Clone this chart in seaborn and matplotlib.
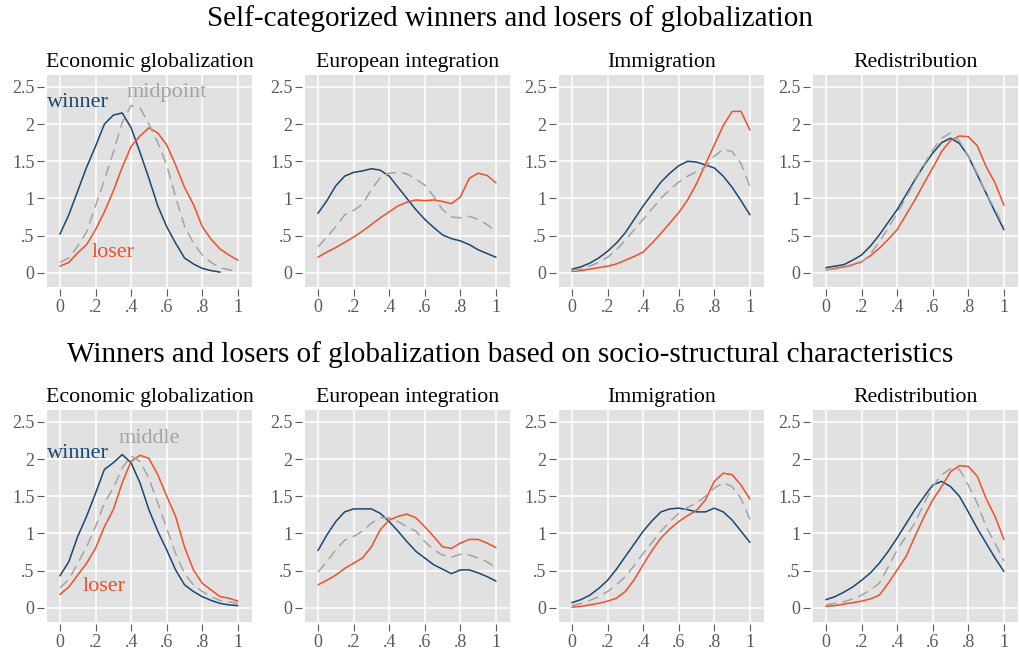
import numpy as np
import matplotlib
matplotlib.use("Agg")
import matplotlib.pyplot as plt
import seaborn as sns

# ==========================================
# Data (densities)
# ==========================================
grid = [0, .05, .10, .15, .20, .25, .30, .35, .40, .45, .50,
        .55, .60, .65, .70, .75, .80, .85, .90, .95, 1.0]

panel_titles = ["Economic globalization", "European integration",
                "Immigration", "Redistribution"]
row_titles = ["Self-categorized winners and losers of globalization",
              "Winners and losers of globalization based on socio-structural characteristics"]

# row 1: self-categorized
econ_self_winner = [.52, .78, 1.10, 1.42, 1.70, 2.00, 2.12, 2.15, 1.95, 1.62, 1.27,
                    .90, .62, .40, .20, .12, .06, .03, .01]
econ_self_loser = [.09, .14, .27, .38, .58, .82, 1.10, 1.42, 1.70, 1.84, 1.95,
                   1.88, 1.72, 1.45, 1.15, .92, .62, .45, .32, .24, .17]
econ_self_mid = [.14, .20, .36, .55, .90, 1.25, 1.62, 2.02, 2.25, 2.22, 2.00,
                 1.75, 1.45, 1.02, .63, .40, .24, .14, .07, .04, .02]

euro_self_winner = [.80, .97, 1.17, 1.30, 1.35, 1.37, 1.40, 1.38, 1.30, 1.15, 1.00,
                    .85, .72, .61, .51, .46, .43, .38, .31, .26, .21]
euro_self_loser = [.21, .28, .34, .41, .48, .56, .65, .74, .82, .90, .95,
                   .98, .97, .98, .96, .93, 1.02, 1.27, 1.34, 1.31, 1.21]
euro_self_mid = [.35, .48, .62, .78, .84, .92, 1.12, 1.28, 1.34, 1.35, 1.33,
                 1.26, 1.18, 1.03, .85, .75, .74, .76, .72, .65, .55]

immig_self_winner = [.05, .08, .13, .20, .29, .40, .54, .72, .90, 1.06, 1.22,
                     1.34, 1.44, 1.50, 1.49, 1.45, 1.41, 1.30, 1.15, .97, .78]
immig_self_loser = [.02, .03, .05, .07, .09, .12, .17, .22, .28, .40, .53,
                    .67, .81, .98, 1.20, 1.46, 1.72, 1.98, 2.17, 2.17, 1.92]
immig_self_mid = [.03, .05, .09, .14, .21, .31, .44, .58, .72, .86, 1.00,
                  1.12, 1.22, 1.30, 1.36, 1.42, 1.57, 1.66, 1.63, 1.47, 1.16]

redis_self_winner = [.07, .09, .11, .17, .24, .36, .51, .68, .85, 1.05, 1.25,
                     1.44, 1.61, 1.75, 1.81, 1.74, 1.57, 1.32, 1.07, .82, .58]
redis_self_loser = [.04, .06, .08, .11, .15, .23, .33, .45, .58, .78, .98,
                    1.20, 1.41, 1.63, 1.78, 1.84, 1.83, 1.71, 1.43, 1.21, .91]
redis_self_mid = [.04, .05, .07, .10, .14, .25, .42, .60, .80, 1.01, 1.23,
                  1.45, 1.65, 1.81, 1.88, 1.77, 1.57, 1.34, 1.07, .85, .62]

# row 2: socio-structural
econ_soc_winner = [.43, .62, .96, 1.23, 1.54, 1.86, 1.95, 2.06, 1.95, 1.68, 1.32,
                   1.03, .78, .51, .31, .22, .15, .10, .06, .04, .03]
econ_soc_loser = [.18, .28, .44, .60, .80, 1.09, 1.32, 1.68, 1.97, 2.05, 2.01,
                  1.79, 1.50, 1.23, .82, .51, .33, .24, .15, .13, .09]
econ_soc_mid = [.27, .38, .60, .82, 1.09, 1.41, 1.61, 1.88, 2.04, 1.97, 1.74,
                1.41, 1.07, .73, .46, .31, .22, .15, .10, .08, .06]

euro_soc_winner = [.77, .98, 1.16, 1.29, 1.33, 1.33, 1.33, 1.27, 1.16, 1.03, .89,
                   .76, .67, .58, .52, .46, .51, .51, .47, .42, .36]
euro_soc_loser = [.31, .37, .44, .53, .60, .67, .82, 1.05, 1.18, 1.23, 1.26,
                  1.21, 1.09, .96, .82, .80, .87, .92, .92, .87, .81]
euro_soc_mid = [.48, .62, .78, .91, .96, 1.03, 1.14, 1.21, 1.21, 1.16, 1.09,
                1.03, .89, .78, .71, .68, .72, .71, .67, .62, .54]

immig_soc_winner = [.07, .11, .17, .26, .37, .52, .69, .86, 1.03, 1.17, 1.29,
                    1.33, 1.34, 1.32, 1.29, 1.29, 1.34, 1.29, 1.18, 1.03, .88]
immig_soc_loser = [.01, .02, .04, .06, .09, .13, .22, .38, .58, .77, .94,
                   1.06, 1.16, 1.24, 1.31, 1.45, 1.70, 1.81, 1.79, 1.65, 1.46]
immig_soc_mid = [.03, .06, .10, .15, .22, .31, .42, .57, .73, .88, 1.03,
                 1.16, 1.27, 1.35, 1.41, 1.50, 1.61, 1.68, 1.63, 1.47, 1.19]

redis_soc_winner = [.11, .15, .21, .28, .37, .47, .60, .76, .94, 1.13, 1.32,
                    1.49, 1.65, 1.70, 1.63, 1.50, 1.29, 1.07, .87, .67, .49]
redis_soc_loser = [.02, .03, .05, .07, .09, .12, .17, .33, .51, .69, .96,
                   1.22, 1.45, 1.63, 1.83, 1.91, 1.90, 1.77, 1.47, 1.23, .92]
redis_soc_mid = [.04, .06, .08, .12, .17, .24, .33, .55, .78, .96, 1.14,
                 1.40, 1.63, 1.79, 1.87, 1.86, 1.65, 1.41, 1.09, .87, .63]

rows = [
    [(econ_self_winner, econ_self_loser, econ_self_mid),
     (euro_self_winner, euro_self_loser, euro_self_mid),
     (immig_self_winner, immig_self_loser, immig_self_mid),
     (redis_self_winner, redis_self_loser, redis_self_mid)],
    [(econ_soc_winner, econ_soc_loser, econ_soc_mid),
     (euro_soc_winner, euro_soc_loser, euro_soc_mid),
     (immig_soc_winner, immig_soc_loser, immig_soc_mid),
     (redis_soc_winner, redis_soc_loser, redis_soc_mid)],
]
mid_labels = ["midpoint", "middle"]

xticks = [0, .2, .4, .6, .8, 1]
xticklabels = ["0", ".2", ".4", ".6", ".8", "1"]
yticks = [0, .5, 1, 1.5, 2, 2.5]
yticklabels = ["0", ".5", "1", "1.5", "2", "2.5"]

# ==========================================
# Style
# ==========================================
navy = "#1a476f"
orange = "#ee5028"
grey = "#a3a3a3"
tickgrey = "#5a5a5a"

sns.set_theme(style="darkgrid", rc={
    "axes.facecolor": "#e1e1e1",
    "grid.color": "white",
    "grid.linewidth": 1.1,
})
plt.rcParams["font.family"] = ["Liberation Serif", "DejaVu Serif"]

fig = plt.figure(figsize=(10.2, 6.53), dpi=100)

lefts = [0.046, 0.299, 0.548, 0.797]
bottoms = [0.5605, 0.0475]
width, height = 0.201, 0.3247

for r, row in enumerate(rows):
    for c, (win, los, mid) in enumerate(row):
        ax = fig.add_axes([lefts[c], bottoms[r], width, height])
        sns.lineplot(x=grid[:len(win)], y=win, ax=ax, color=navy, lw=1.1)
        sns.lineplot(x=grid[:len(los)], y=los, ax=ax, color=orange, lw=1.1)
        sns.lineplot(x=grid[:len(mid)], y=mid, ax=ax, color=grey, lw=1.1)
        ax.lines[-1].set_dashes([7, 4])

        ax.set_xlim(-0.073, 1.079)
        ax.set_ylim(-0.19, 2.66)
        ax.set_xticks(xticks)
        ax.set_xticklabels(xticklabels)
        ax.set_yticks(yticks)
        ax.set_yticklabels(yticklabels)
        for s in ax.spines.values():
            s.set_visible(False)
        ax.spines["left"].set_position(("outward", 2))
        ax.spines["bottom"].set_position(("outward", 1.5))
        ax.tick_params(axis="both", which="both", direction="out", length=5,
                       width=0.8, color=tickgrey, labelcolor=tickgrey,
                       labelsize=13, pad=2, left=True, bottom=True)
        ax.set_title(panel_titles[c], fontsize=15.7, color="black", pad=6)

        if c == 0:
            if r == 0:
                ax.text(-0.075, 2.29, "winner", color=navy, fontsize=16,
                        va="center", ha="left")
                ax.text(0.60, 2.42, mid_labels[r], color=grey, fontsize=16,
                        va="center", ha="center")
                ax.text(0.18, 0.28, "loser", color=orange, fontsize=16,
                        va="center", ha="left")
            else:
                ax.text(-0.075, 2.07, "winner", color=navy, fontsize=16,
                        va="center", ha="left")
                ax.text(0.50, 2.28, mid_labels[r], color=grey, fontsize=16,
                        va="center", ha="center")
                ax.text(0.13, 0.29, "loser", color=orange, fontsize=16,
                        va="center", ha="left")

fig.text(0.5, 1 - 19 / 653, row_titles[0], ha="center", va="center",
         fontsize=21, color="black")
fig.text(0.5, 1 - 355 / 653, row_titles[1], ha="center", va="center",
         fontsize=21, color="black")

fig.savefig("out.png", dpi=100)
